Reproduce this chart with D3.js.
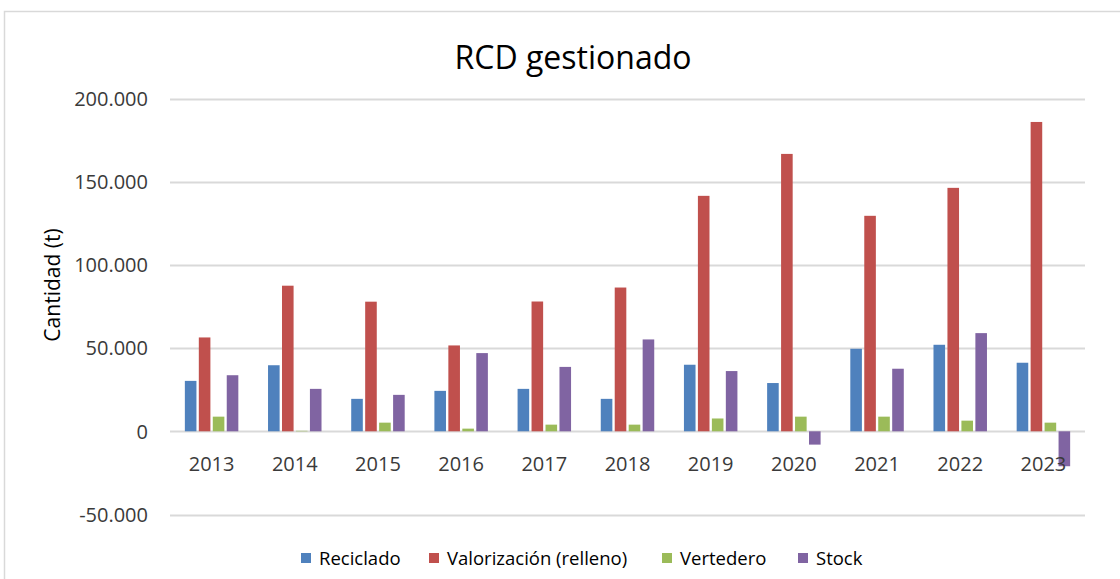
<!DOCTYPE html>
<html>
<head>
<meta charset="utf-8">
<script src="https://cdn.jsdelivr.net/npm/d3@7"></script>
<style>
  html, body { margin: 0; padding: 0; background: #fff; }
  svg { display: block; font-family: "Open Sans", "Liberation Sans", sans-serif; }
</style>
</head>
<body>
<div id="chart"></div>
<script>
// Data (tonnes)
const years = ['2013', '2014', '2015', '2016', '2017', '2018', '2019', '2020', '2021', '2022', '2023'];
const seriesNames = ['Reciclado', 'Valorización (relleno)', 'Vertedero', 'Stock'];
const reciclado = [30300, 39700, 19500, 24300, 25500, 19500, 40000, 29000, 49600, 52000, 41200];
const valorizacion = [56400, 87500, 77900, 51600, 78000, 86400, 141500, 166700, 129500, 146300, 185900];
const vertedero = [8800, 300, 5200, 1600, 4000, 4000, 7700, 8800, 8800, 6400, 5200];
const stock = [33700, 25500, 21900, 47000, 38700, 55200, 36200, -8000, 37600, 59000, -21000];
const yTicks = [-50000, 0, 50000, 100000, 150000, 200000];

const colors = ['#4F81BD', '#C0504D', '#9BBB59', '#8064A2'];
const values = [reciclado, valorizacion, vertedero, stock];

const width = 1120, height = 579;
const plot = { left: 170, right: 1085, top: 98.5, bottom: 514.5 };

const svg = d3.select('#chart').append('svg')
  .attr('width', width)
  .attr('height', height);

// chart area border
svg.append('rect')
  .attr('x', 4.5).attr('y', 11.5)
  .attr('width', 1200).attr('height', 700)
  .attr('fill', '#fff')
  .attr('stroke', '#D9D9D9')
  .attr('stroke-width', 1.5);

const x0 = d3.scaleBand()
  .domain(years)
  .range([plot.left, plot.right])
  .paddingInner(0.3)
  .paddingOuter(0.15);

const x1 = d3.scaleBand()
  .domain(d3.range(seriesNames.length))
  .range([0, x0.bandwidth()])
  .padding(0.17);

const y = d3.scaleLinear()
  .domain([-50000, 200000])
  .range([plot.bottom, plot.top]);

const locale = d3.formatLocale({ decimal: ',', thousands: '.', grouping: [3], currency: ['', ''], minus: '-' });
const fmt = locale.format(',d');

// Gridlines
svg.append('g')
  .selectAll('line')
  .data(yTicks)
  .join('line')
  .attr('x1', plot.left)
  .attr('x2', plot.right)
  .attr('y1', d => Math.round(y(d)) + 0.5)
  .attr('y2', d => Math.round(y(d)) + 0.5)
  .attr('stroke', '#D9D9D9')
  .attr('stroke-width', 2);

// Y tick labels
svg.append('g')
  .selectAll('text')
  .data(yTicks)
  .join('text')
  .attr('x', 148)
  .attr('y', d => y(d))
  .attr('dy', '0.36em')
  .attr('text-anchor', 'end')
  .attr('font-size', 20)
  .attr('fill', '#3a3a3a')
  .text(d => fmt(d));

// Bars
const groups = svg.append('g')
  .selectAll('g')
  .data(years)
  .join('g')
  .attr('transform', d => `translate(${x0(d)},0)`);

groups.selectAll('rect')
  .data((yr, i) => values.map((s, k) => ({ k, v: s[i] })))
  .join('rect')
  .attr('x', d => x1(d.k))
  .attr('width', x1.bandwidth())
  .attr('y', d => y(Math.max(0, d.v)))
  .attr('height', d => Math.abs(y(d.v) - y(0)))
  .attr('fill', d => colors[d.k]);

// Year labels
svg.append('g')
  .selectAll('text')
  .data(years)
  .join('text')
  .attr('x', d => x0(d) + x0.bandwidth() / 2)
  .attr('y', 464)
  .attr('dy', '0.36em')
  .attr('text-anchor', 'middle')
  .attr('font-size', 20)
  .attr('fill', '#3a3a3a')
  .text(d => d);

// Title
svg.append('text')
  .attr('x', 573)
  .attr('y', 57)
  .attr('dy', '0.36em')
  .attr('text-anchor', 'middle')
  .attr('font-size', 32)
  .attr('fill', '#000')
  .text('RCD gestionado');

// Y axis title
svg.append('text')
  .attr('transform', 'translate(52,285) rotate(-90)')
  .attr('dy', '0.36em')
  .attr('text-anchor', 'middle')
  .attr('font-size', 21)
  .attr('fill', '#000')
  .text('Cantidad (t)');

// Legend
const legendX = [301, 429, 662, 798];
const legend = svg.append('g')
  .selectAll('g')
  .data(seriesNames)
  .join('g')
  .attr('transform', (d, i) => `translate(${legendX[i]},558)`);

legend.append('rect')
  .attr('x', 0).attr('y', -5)
  .attr('width', 10).attr('height', 10)
  .attr('fill', (d, i) => colors[i]);

legend.append('text')
  .attr('x', 18)
  .attr('dy', '0.36em')
  .attr('font-size', 18.5)
  .attr('fill', '#000')
  .text(d => d);
</script>
</body>
</html>
